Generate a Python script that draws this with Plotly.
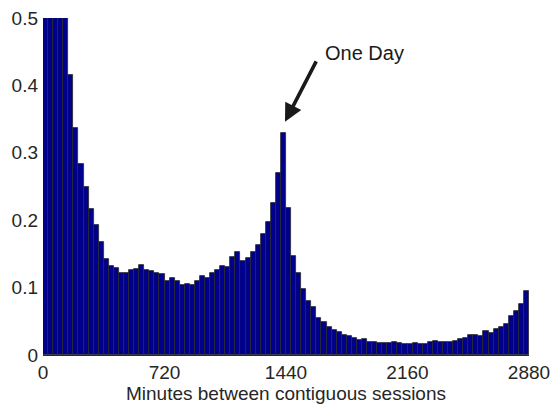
import plotly.graph_objects as go

bin_width = 30
bin_starts = list(range(0, 2880, bin_width))
fractions = [
    0.95, 0.85, 0.74, 0.62, 0.53, 0.415, 0.337, 0.283, 0.250, 0.217,
    0.193, 0.167, 0.142, 0.1325, 0.1296, 0.1217, 0.122, 0.126, 0.1276, 0.133,
    0.126, 0.1246, 0.1217, 0.1197, 0.110, 0.1137, 0.110, 0.104, 0.106, 0.104,
    0.110, 0.1177, 0.114, 0.1217, 0.126, 0.1315, 0.130, 0.146, 0.153, 0.140,
    0.144, 0.153, 0.163, 0.1795, 0.198, 0.225, 0.2705, 0.329, 0.2176, 0.1469,
    0.1212, 0.0979, 0.0801, 0.0712, 0.0554, 0.0484, 0.042, 0.0371, 0.0346, 0.0302,
    0.0287, 0.0252, 0.0227, 0.0232, 0.0188, 0.0188, 0.0178, 0.0173, 0.0173, 0.0188,
    0.0183, 0.0158, 0.0158, 0.0173, 0.0158, 0.0158, 0.0188, 0.0213, 0.0193, 0.0198,
    0.0198, 0.0208, 0.0232, 0.0247, 0.0292, 0.0292, 0.0282, 0.0351, 0.0326, 0.0381,
    0.0415, 0.0465, 0.0574, 0.0648, 0.0757, 0.0945,
]
x_ticks = [0, 720, 1440, 2160, 2880]
y_ticks = [0, 0.1, 0.2, 0.3, 0.4, 0.5]
y_tick_labels = ["0", "0.1", "0.2", "0.3", "0.4", "0.5"]
annotation_text = "One Day"
annotation_x = 1434
annotation_y = 0.346

FAM = "Liberation Sans, Arial, sans-serif"
font = dict(family=FAM, size=19, color="#262626")

fig = go.Figure(go.Bar(
    x=[s + bin_width / 2 for s in bin_starts],
    y=fractions,
    width=bin_width,
    marker=dict(color="#00008C", line=dict(color="#2a2a2a", width=0.8)),
))

L, R, T, B = 43, 24, 18, 50
px_per_min = (553 - L - R) / 2880
px_per_unit = (405 - T - B) / 0.5

fig.update_layout(
    width=553, height=405,
    margin=dict(l=L, r=R, t=T, b=B),
    paper_bgcolor="white", plot_bgcolor="white",
    showlegend=False,
    bargap=0,
    font=font,
    xaxis=dict(
        range=[0, 2880], tickvals=x_ticks, ticktext=[str(v) for v in x_ticks],
        showgrid=False, zeroline=False, showline=True, linecolor="#262626", linewidth=1,
        ticks="", ticklabelstandoff=0, automargin=False,
        title=dict(text="Minutes between contiguous sessions", standoff=3, font=font),
    ),
    yaxis=dict(
        range=[0, 0.5], tickvals=y_ticks, ticktext=y_tick_labels,
        showgrid=False, zeroline=False, showline=False, ticks="",
        ticklabelstandoff=4, automargin=False,
    ),
    annotations=[
        dict(x=annotation_x, y=annotation_y, xref="x", yref="y", text="",
             font=dict(size=1), showarrow=True, arrowhead=2, arrowsize=1.0, arrowwidth=3.6,
             arrowcolor="#1a1a1a", ax=32, ay=-62, standoff=0, startstandoff=0),
        dict(xref="x", yref="y",
             x=annotation_x + 38 / px_per_min,
             y=annotation_y + 69 / px_per_unit,
             text=annotation_text, showarrow=False,
             font=dict(family=FAM, size=20, color="#1a1a1a"),
             xanchor="left", yanchor="middle"),
    ],
)

fig.write_html("out.html")
